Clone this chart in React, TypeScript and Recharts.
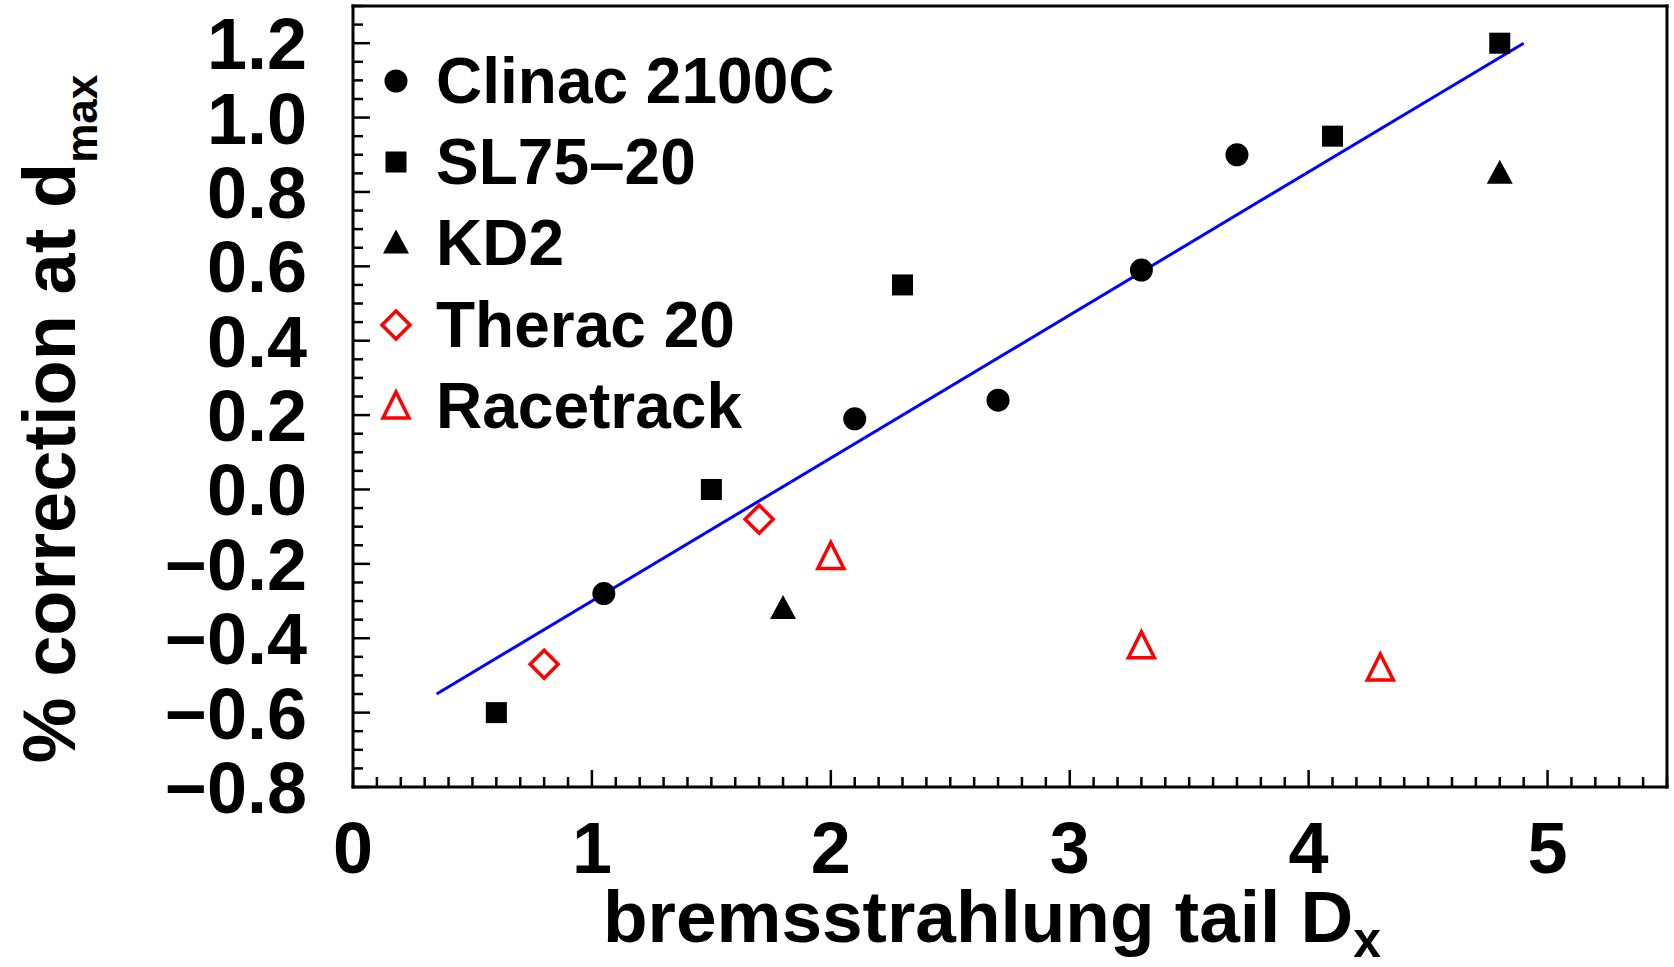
import React from "react";
import { ScatterChart, Scatter, XAxis, YAxis, Legend } from "recharts";

const FONT = '"Liberation Sans", Arial, Helvetica, sans-serif';

// measured % correction at d_max vs. bremsstrahlung tail D_x
const clinacDx = [1.05, 2.1, 2.7, 3.3, 3.7];
const clinacCorr = [-0.28, 0.19, 0.24, 0.59, 0.9];

const slDx = [0.6, 1.5, 2.3, 4.1, 4.8];
const slCorr = [-0.6, 0.0, 0.55, 0.95, 1.2];

const kd2Dx = [1.8, 4.8];
const kd2Corr = [-0.32, 0.85];

const theracDx = [0.8, 1.7];
const theracCorr = [-0.47, -0.08];

const racetrackDx = [2.0, 3.3, 4.3];
const racetrackCorr = [-0.18, -0.42, -0.48];

// linear fit end points
const fitDx = [0.35, 4.9];
const fitCorr = [-0.55, 1.2];

const xTickLabels = [0, 1, 2, 3, 4, 5];
const yTickLabels = [-0.8, -0.6, -0.4, -0.2, 0.0, 0.2, 0.4, 0.6, 0.8, 1.0, 1.2];

const X_DOMAIN: [number, number] = [0, 5.5];
const Y_DOMAIN: [number, number] = [-0.8, 1.3];

// every minor tick position (0.1 on x, 0.05 on y)
const xMinor: number[] = [];
for (let i = 0; i <= 55; i++) xMinor.push(i / 10);
const yMinor: number[] = [];
for (let i = -16; i <= 26; i++) yMinor.push(i / 20);

const toPoints = (xs: number[], ys: number[]) => xs.map((x, i) => ({ x, y: ys[i] }));

type MarkerKind = "circle" | "square" | "triangle" | "diamond" | "openTriangle";

const series: { name: string; kind: MarkerKind; data: { x: number; y: number }[] }[] = [
  { name: "Clinac 2100C", kind: "circle", data: toPoints(clinacDx, clinacCorr) },
  { name: "SL75\u201320", kind: "square", data: toPoints(slDx, slCorr) },
  { name: "KD2", kind: "triangle", data: toPoints(kd2Dx, kd2Corr) },
  { name: "Therac 20", kind: "diamond", data: toPoints(theracDx, theracCorr) },
  { name: "Racetrack", kind: "openTriangle", data: toPoints(racetrackDx, racetrackCorr) },
];

const RED = "#ff0000";

function Marker({ kind, cx, cy }: { kind: MarkerKind; cx: number; cy: number }) {
  switch (kind) {
    case "circle":
      return <circle cx={cx} cy={cy} r={11.5} fill="#000" />;
    case "square":
      return <rect x={cx - 10.5} y={cy - 10.5} width={21} height={21} fill="#000" />;
    case "triangle":
      return (
        <polygon
          points={`${cx},${cy - 13.5} ${cx + 13},${cy + 10.5} ${cx - 13},${cy + 10.5}`}
          fill="#000"
        />
      );
    case "diamond":
      return (
        <polygon
          points={`${cx},${cy - 14} ${cx + 14},${cy} ${cx},${cy + 14} ${cx - 14},${cy}`}
          fill="#fff"
          stroke={RED}
          strokeWidth={3.5}
        />
      );
    case "openTriangle":
      return (
        <polygon
          points={`${cx},${cy - 14} ${cx + 13},${cy + 12} ${cx - 13},${cy + 12}`}
          fill="#fff"
          stroke={RED}
          strokeWidth={3.5}
        />
      );
  }
}

const MAJOR = 17;
const MINOR = 10;
const near = (v: number, list: number[]) => list.some((m) => Math.abs(m - v) < 1e-6);

const labelStyle = { fontFamily: FONT, fontWeight: 700, fontSize: 72, fill: "#000" };

function BottomTick(props: any) {
  const { x, y, payload } = props;
  const major = near(payload.value, xTickLabels);
  return (
    <g>
      <line x1={x} x2={x} y1={y} y2={y - (major ? MAJOR : MINOR)} stroke="#000" strokeWidth={2.5} />
      {major && (
        <text x={x} y={y + 86} textAnchor="middle" style={labelStyle}>
          {payload.value}
        </text>
      )}
    </g>
  );
}

function TopTick(props: any) {
  const { x, y, payload } = props;
  const major = near(payload.value, xTickLabels);
  return <line x1={x} x2={x} y1={y} y2={y + (major ? MAJOR : MINOR)} stroke="#000" strokeWidth={2.5} />;
}

function LeftTick(props: any) {
  const { x, y, payload } = props;
  const major = near(payload.value, yTickLabels);
  const v = payload.value as number;
  const text = (v < -1e-9 ? "\u2212" : "") + Math.abs(v).toFixed(1);
  return (
    <g>
      <line x1={x} x2={x + (major ? MAJOR : MINOR)} y1={y} y2={y} stroke="#000" strokeWidth={2.5} />
      {major && (
        <text x={x - 46} y={y + 26} textAnchor="end" style={labelStyle}>
          {text}
        </text>
      )}
    </g>
  );
}

function RightTick(props: any) {
  const { x, y, payload } = props;
  const major = near(payload.value, yTickLabels);
  return <line x1={x} x2={x - (major ? MAJOR : MINOR)} y1={y} y2={y} stroke="#000" strokeWidth={2.5} />;
}

const frame = { stroke: "#000", strokeWidth: 3, strokeLinecap: "square" as const };

function XTitle({ viewBox }: any) {
  const cx = viewBox.x + viewBox.width / 2 - 18;
  return (
    <text x={cx} y={viewBox.y + 155} textAnchor="middle" style={{ ...labelStyle, fontSize: 73 }}>
      bremsstrahlung tail D
      <tspan fontSize={50} dy={15}>
        x
      </tspan>
    </text>
  );
}

function YTitle({ viewBox }: any) {
  const bx = viewBox.x + viewBox.width - 278;
  const cy = viewBox.y + 413;
  return (
    <text
      x={bx}
      y={cy}
      transform={`rotate(-90 ${bx} ${cy})`}
      textAnchor="middle"
      style={{ ...labelStyle, fontSize: 74 }}
    >
      % correction at d
      <tspan fontSize={44} dy={22}>
        max
      </tspan>
    </text>
  );
}

function LegendBox() {
  return (
    <div style={{ fontFamily: FONT, fontWeight: 700 }}>
      {series.map((s) => (
        <div key={s.name} style={{ display: "flex", alignItems: "center", height: 81.4 }}>
          <svg width={32} height={32} style={{ overflow: "visible" }}>
            <Marker kind={s.kind} cx={16} cy={16} />
          </svg>
          <span style={{ marginLeft: 24, fontSize: 64, lineHeight: 1, whiteSpace: "nowrap", color: "#000" }}>
            {s.name}
          </span>
        </div>
      ))}
    </div>
  );
}

export default function App() {
  return (
    <div style={{ position: "absolute", left: 0, top: 0, width: 1674, height: 967, background: "#fff" }}>
      <ScatterChart width={1674} height={967} margin={{ top: 5, right: 6, bottom: 179, left: 352 }}>
        <XAxis
          xAxisId="bottom"
          type="number"
          dataKey="x"
          domain={X_DOMAIN}
          ticks={xMinor}
          interval={0}
          height={1}
          tickSize={0}
          tickMargin={0}
          tick={BottomTick}
          axisLine={frame}
          label={XTitle}
        />
        <XAxis
          xAxisId="top"
          orientation="top"
          type="number"
          dataKey="x"
          domain={X_DOMAIN}
          ticks={xMinor}
          interval={0}
          height={1}
          tickSize={0}
          tickMargin={0}
          tick={TopTick}
          axisLine={frame}
        />
        <YAxis
          yAxisId="left"
          type="number"
          dataKey="y"
          domain={Y_DOMAIN}
          ticks={yMinor}
          interval={0}
          width={1}
          tickSize={0}
          tickMargin={0}
          tick={LeftTick}
          axisLine={frame}
          label={YTitle}
        />
        <YAxis
          yAxisId="right"
          orientation="right"
          type="number"
          dataKey="y"
          domain={Y_DOMAIN}
          ticks={yMinor}
          interval={0}
          width={1}
          tickSize={0}
          tickMargin={0}
          tick={RightTick}
          axisLine={frame}
        />
        <Legend
          layout="vertical"
          align="center"
          verticalAlign="middle"
          wrapperStyle={{ left: 380, top: 40 }}
          content={() => <LegendBox />}
        />
        <Scatter
          name="fit"
          xAxisId="bottom"
          yAxisId="left"
          data={toPoints(fitDx, fitCorr)}
          line={{ stroke: "#0000ff", strokeWidth: 3 }}
          shape={() => <g />}
          legendType="none"
          isAnimationActive={false}
        />
        {series.map((s) => (
          <Scatter
            key={s.name}
            name={s.name}
            xAxisId="bottom"
            yAxisId="left"
            data={s.data}
            shape={(p: any) => <Marker kind={s.kind} cx={p.cx} cy={p.cy} />}
            isAnimationActive={false}
          />
        ))}
      </ScatterChart>
    </div>
  );
}
